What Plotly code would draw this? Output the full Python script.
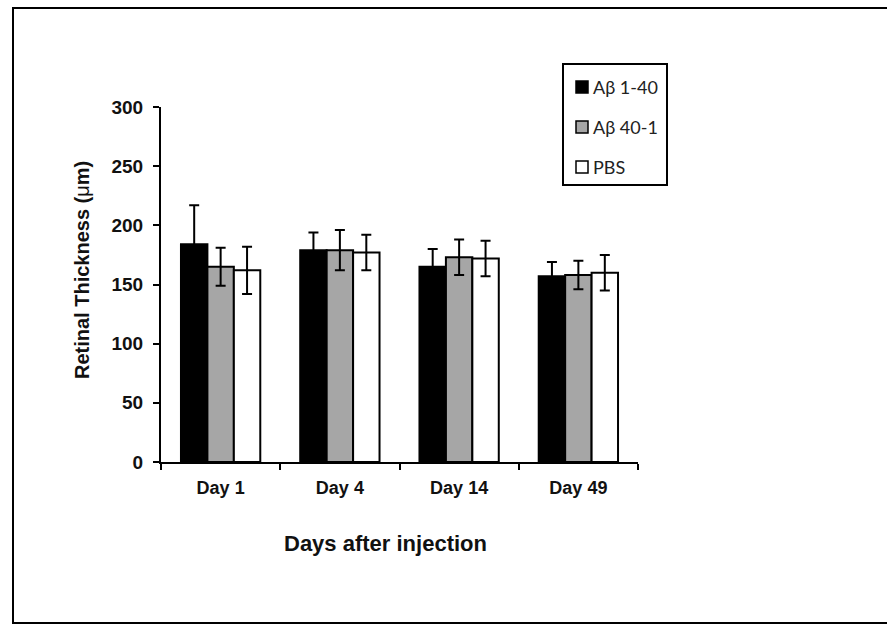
import plotly.graph_objects as go

days = ["Day 1", "Day 4", "Day 14", "Day 49"]
series_names = ["Aβ 1-40", "Aβ 40-1", "PBS"]
ab140 = [184, 179, 165, 157]
ab140_err = [33, 15, 15, 12]
ab401 = [165, 179, 173, 158]
ab401_err = [16, 17, 15, 12]
pbs = [162, 177, 172, 160]
pbs_err = [20, 15, 15, 15]
y_ticks = [0, 50, 100, 150, 200, 250, 300]

fills = ["#000000", "#a6a6a6", "#ffffff"]
values = [ab140, ab401, pbs]
errs = [ab140_err, ab401_err, pbs_err]

fig = go.Figure()
for name, v, e, c in zip(series_names, values, errs, fills):
    fig.add_trace(go.Bar(
        x=days, y=v, name=name, showlegend=False,
        marker=dict(color=c, line=dict(color="#000000", width=2)),
        error_y=dict(type="data", array=e, visible=True, color="#000000",
                     thickness=2, width=5),
    ))

W, H = 887, 627
L, R, T, B = 161, 249, 107, 165
pw = W - L - R
ph = H - T - B

def px2x(px):
    return (px - L) / pw

def px2y(py):
    return (H - B - py) / ph

fig.update_layout(
    width=W, height=H,
    margin=dict(l=L, r=R, t=T, b=B, pad=0),
    paper_bgcolor="white", plot_bgcolor="white",
    barmode="group", bargap=0.335, bargroupgap=0,
    font=dict(family="Liberation Sans, Arial, sans-serif", color="#000000"),
)

fig.update_xaxes(
    showline=True, linecolor="#000000", linewidth=2,
    ticks="outside", tickson="boundaries", ticklen=6, tickwidth=2, tickcolor="#000000",
    tickfont=dict(family="Liberation Sans, Arial, sans-serif", size=18, color="#111111", weight="bold"),
    ticklabelstandoff=8,
    showgrid=False, zeroline=False, mirror=False,
)
fig.update_yaxes(
    range=[0, 300], tickvals=y_ticks,
    showline=True, linecolor="#000000", linewidth=2,
    ticks="outside", ticklen=6, tickwidth=2, tickcolor="#000000",
    tickfont=dict(family="Liberation Sans, Arial, sans-serif", size=19, color="#111111", weight="bold"),
    ticklabelstandoff=6,
    showgrid=False, zeroline=False,
)

fig.add_annotation(
    text="<b>Days after injection</b>", xref="paper", yref="paper",
    x=px2x(385), y=px2y(543), xanchor="center", yanchor="middle",
    showarrow=False, font=dict(family="Liberation Sans, Arial, sans-serif", size=22, color="#111111"),
)
fig.add_annotation(
    text="<b>Retinal Thickness (</b>μ<b>m)</b>", xref="paper", yref="paper",
    x=px2x(82), y=px2y(270), xanchor="center", yanchor="middle", textangle=-90,
    showarrow=False, font=dict(family="Liberation Sans, Arial, sans-serif", size=20, color="#111111"),
)

# legend box drawn manually
fig.add_shape(
    type="rect", xref="paper", yref="paper",
    x0=px2x(563), x1=px2x(667), y0=px2y(185), y1=px2y(64),
    line=dict(color="#000000", width=2), fillcolor="white",
)
item_y = [87, 127, 167]
for name, c, yy in zip(series_names, fills, item_y):
    fig.add_shape(
        type="rect", xref="paper", yref="paper",
        x0=px2x(576), x1=px2x(588), y0=px2y(yy + 6), y1=px2y(yy - 6),
        line=dict(color="#000000", width=1.5), fillcolor=c,
    )
    fig.add_annotation(
        text=name, xref="paper", yref="paper",
        x=px2x(591), y=px2y(yy), xanchor="left", yanchor="middle",
        showarrow=False,
        font=dict(family="Lato, Open Sans, sans-serif", size=18, color="#222222"),
    )

fig.add_shape(
    type="rect", xref="paper", yref="paper",
    x0=px2x(13), x1=px2x(905), y0=px2y(623), y1=px2y(8),
    line=dict(color="#000000", width=2), fillcolor="rgba(0,0,0,0)", layer="below",
)

fig.write_html("out.html")
